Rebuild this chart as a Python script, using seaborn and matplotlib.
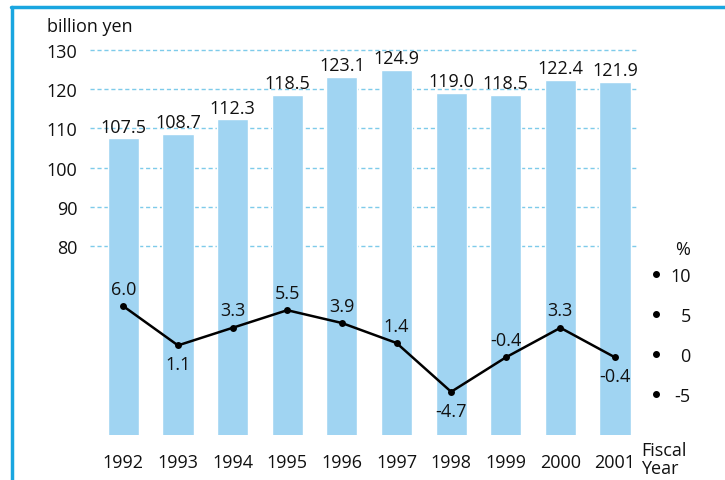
import numpy as np
import matplotlib
matplotlib.use("Agg")
import matplotlib.pyplot as plt
import matplotlib.transforms as mtransforms
from matplotlib.lines import Line2D
import seaborn as sns

# data
years = ['1992', '1993', '1994', '1995', '1996', '1997', '1998', '1999', '2000', '2001']
sales = [107.5, 108.7, 112.3, 118.5, 123.1, 124.9, 119.0, 118.5, 122.4, 121.9]
growth = [6.0, 1.1, 3.3, 5.5, 3.9, 1.4, -4.7, -0.4, 3.3, -0.4]
growth_below = [False, True, False, False, False, False, True, False, False, True]
left_ticks = [80, 90, 100, 110, 120, 130]
right_ticks = [-5, 0, 5, 10]

bar_color = '#a0d4f2'
grid_color = '#7ecbea'
frame_color = '#1aa6e0'

sns.set_style("white")
plt.rcParams['font.family'] = ['Open Sans', 'DejaVu Sans']
fs = 13

fig = plt.figure(figsize=(7.25, 4.81), dpi=100)
ax = fig.add_axes([90 / 725, 1 - 436 / 481, 548 / 725, 396 / 481])

sns.barplot(x=years, y=sales, ax=ax, color=bar_color, saturation=1, width=0.57)
ax.bar_label(ax.containers[0], fmt='%.1f', padding=2, fontsize=fs, color='#111111')

ax.set_ylim(31.9, 132.8)
ax.set_xlim(-0.61, 9.42)
ax.set_yticks(left_ticks)
ax.set_axisbelow(True)
ax.yaxis.grid(True, color=grid_color, linestyle=(0, (3, 2)), linewidth=1)
ax.tick_params(axis='y', length=0, pad=9, labelsize=fs, labelcolor='#111111')
ax.tick_params(axis='x', length=0, pad=13, labelsize=fs, labelcolor='#111111')
ax.set_xlabel('')
ax.set_ylabel('')
for s in ax.spines.values():
    s.set_visible(False)

# growth line on right axis
ax2 = ax.twinx()
sns.lineplot(x=np.arange(len(years)), y=growth, ax=ax2, color='black', linewidth=1.8,
             marker='o', markersize=5, markeredgewidth=0)
ax2.set_ylim(-10.1, 39.4)
ax2.set_xlim(-0.61, 9.42)
ax2.set_yticks(right_ticks)
ax2.set_yticklabels([str(t) for t in right_ticks], ha='right')
ax2.tick_params(axis='y', length=0, pad=38, labelsize=fs, labelcolor='#111111')
for s in ax2.spines.values():
    s.set_visible(False)

for i, (v, below) in enumerate(zip(growth, growth_below)):
    ax2.annotate(f'{v:.1f}', (i, v), xytext=(0, -7 if below else 6), textcoords='offset points',
                 ha='center', va='top' if below else 'bottom', fontsize=fs, color='#111111')

# bullets beside right tick labels
trans = mtransforms.blended_transform_factory(ax2.transAxes, ax2.transData)
ax2.plot([1.033] * len(right_ticks), right_ticks, 'o', color='black', markersize=4,
         transform=trans, clip_on=False)

fig.text(683 / 725, 1 - 250 / 481, '%', ha='center', va='center', fontsize=fs, color='#111111')
fig.text(47 / 725, 1 - 27 / 481, 'billion yen', ha='left', va='center', fontsize=fs, color='#111111')
fig.text(641 / 725, 1 - 442 / 481, 'Fiscal\nYear', ha='left', va='top', fontsize=fs,
         linespacing=1.0, color='#111111')

# frame
fig.add_artist(Line2D([11 / 725, 1], [1 - 7.5 / 481] * 2, color=frame_color, linewidth=2.5))
fig.add_artist(Line2D([12 / 725] * 2, [0, 1 - 7.5 / 481], color=frame_color, linewidth=2.5))

fig.savefig('out.png', dpi=100)
